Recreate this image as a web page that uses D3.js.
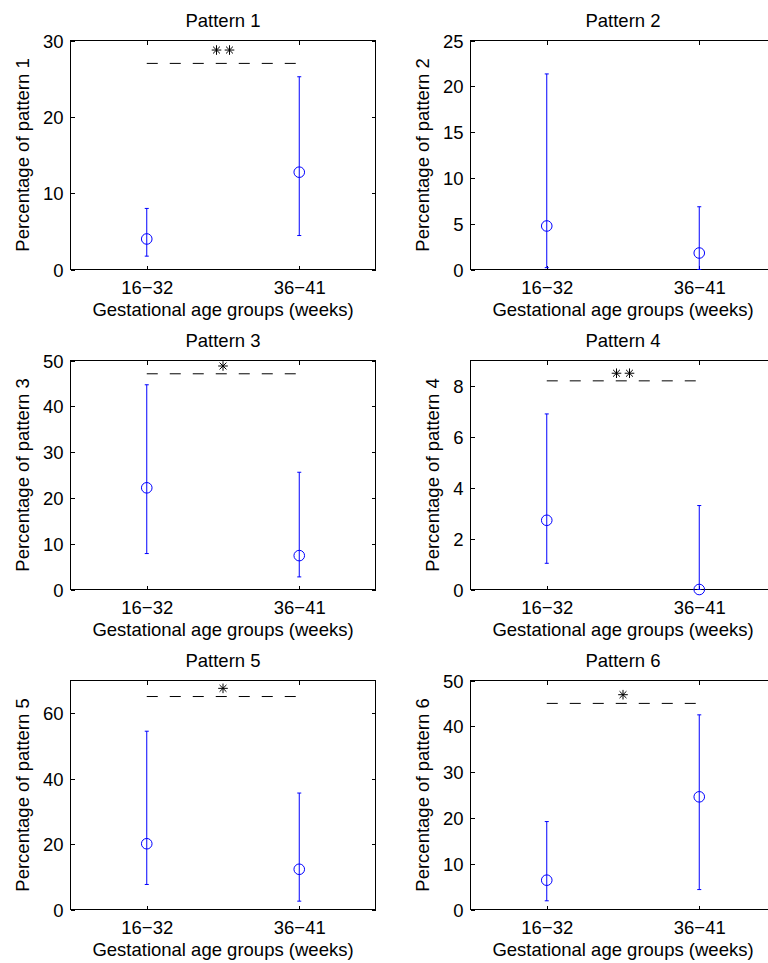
<!DOCTYPE html>
<html>
<head>
<meta charset="utf-8">
<script src="https://cdn.jsdelivr.net/npm/d3@7"></script>
<style>
  html, body { margin: 0; padding: 0; background: #fff; }
  svg { display: block; }
  text { font-family: "Liberation Sans", Arial, Helvetica, sans-serif; fill: #000; }
</style>
</head>
<body>
<svg id="chart" width="768" height="963"></svg>
<script>
// Age groups on the x axis
const groups = ["16\u221232", "36\u221241"];
// Panel titles and y-axis labels
const titles = ["Pattern 1", "Pattern 2", "Pattern 3", "Pattern 4", "Pattern 5", "Pattern 6"];
const yLabels = titles.map((t, i) => "Percentage of pattern " + (i + 1));
const xLabel = "Gestational age groups (weeks)";

// Median (circle) and error-bar limits per pattern, one value per age group
const centre = [[4.0, 12.75], [4.75, 1.8], [22.2, 7.4], [2.72, 0], [20.1, 12.3], [6.4, 24.6]];
const lower  = [[1.75, 4.45], [0.2, 0], [7.85, 2.75], [1.03, 0], [7.65, 2.55], [1.9, 4.35]];
const upper  = [[8.0, 25.25], [21.35, 6.85], [44.7, 25.6], [6.9, 3.3], [54.5, 35.6], [19.2, 42.5]];

// Y-axis upper limits and tick values per pattern
const yMax = [30, 25, 50, 9, 70, 50];
const yTicks = [
  [0, 10, 20, 30],
  [0, 5, 10, 15, 20, 25],
  [0, 10, 20, 30, 40, 50],
  [0, 2, 4, 6, 8],
  [0, 20, 40, 60],
  [0, 10, 20, 30, 40, 50]
];

// Significance brackets: dashed line level, star marks and their height
const sigLine = [27.0, null, 47.1, 8.2, 65.1, 45.0];
const sigStars = [2, 0, 1, 2, 1, 1];
const sigStarY = [28.75, null, 48.8, 8.5, 67.6, 46.9];

const svg = d3.select("#chart");
const FONT = 18.5;
const axW = 305, axH = 229;
const colX = [70.5, 470.5];
const rowY = [40.5, 360.5, 680.5];
const blue = "#0000ff";

function star(g, cx, cy) {
  const r = 4.8, d = r * 0.72;
  const p = d3.path();
  p.moveTo(cx, cy - r); p.lineTo(cx, cy + r);
  p.moveTo(cx - r, cy); p.lineTo(cx + r, cy);
  p.moveTo(cx - d, cy - d); p.lineTo(cx + d, cy + d);
  p.moveTo(cx - d, cy + d); p.lineTo(cx + d, cy - d);
  g.append("path").attr("d", p.toString()).attr("stroke", "#000").attr("stroke-width", 1).attr("fill", "none");
}

titles.forEach((title, i) => {
  const x0 = colX[i % 2], y0 = rowY[Math.floor(i / 2)];
  const g = svg.append("g").attr("transform", `translate(${x0},${y0})`);

  const x = d3.scaleLinear().domain([0.5, 2.5]).range([0, axW]);
  const y = d3.scaleLinear().domain([0, yMax[i]]).range([axH, 0]);

  // box
  g.append("rect").attr("x", 0).attr("y", 0).attr("width", axW).attr("height", axH)
    .attr("fill", "none").attr("stroke", "#000").attr("stroke-width", 1)
    .attr("shape-rendering", "crispEdges");

  // axes with inward ticks on all four sides
  const styleAxis = sel => {
    sel.select(".domain").remove();
    sel.selectAll(".tick line").attr("stroke", "#000").attr("shape-rendering", "crispEdges");
    sel.selectAll("text").attr("font-size", FONT).attr("font-family", null).attr("fill", "#000");
  };
  const yAxis = g.append("g")
    .call(d3.axisLeft(y).tickValues(yTicks[i]).tickFormat(d3.format("d")).tickSizeInner(-4).tickSizeOuter(0).tickPadding(7))
    .call(styleAxis);
  yAxis.selectAll("text").attr("dy", "0.36em");
  g.append("g").attr("transform", `translate(${axW},0)`)
    .call(d3.axisRight(y).tickValues(yTicks[i]).tickSizeInner(-4).tickSizeOuter(0).tickFormat(""))
    .call(styleAxis);
  const xAxis = g.append("g").attr("transform", `translate(0,${axH})`)
    .call(d3.axisBottom(x).tickValues([1, 2]).tickFormat((d, k) => groups[k]).tickSizeInner(-4).tickSizeOuter(0).tickPadding(10))
    .call(styleAxis);
  xAxis.selectAll("text").attr("dy", null).attr("y", 24);
  g.append("g")
    .call(d3.axisTop(x).tickValues([1, 2]).tickSizeInner(-4).tickSizeOuter(0).tickFormat(""))
    .call(styleAxis);

  // title and x label
  g.append("text").attr("x", axW / 2).attr("y", -14).attr("text-anchor", "middle")
    .attr("font-size", FONT).text(title);
  g.append("text").attr("x", axW / 2).attr("y", axH + 46).attr("text-anchor", "middle")
    .attr("font-size", FONT).text(xLabel);

  // y label placed left of the widest tick label
  let maxW = 0;
  yAxis.selectAll("text").each(function () { maxW = Math.max(maxW, this.getComputedTextLength()); });
  const lx = -7 - maxW - 14;
  g.append("text").attr("transform", `translate(${lx},${axH / 2}) rotate(-90)`)
    .attr("text-anchor", "middle").attr("font-size", FONT).text(yLabels[i]);

  // significance bracket
  if (sigLine[i] !== null) {
    g.append("line").attr("x1", x(1)).attr("x2", x(2))
      .attr("y1", y(sigLine[i])).attr("y2", y(sigLine[i]))
      .attr("stroke", "#000").attr("stroke-width", 1).attr("stroke-dasharray", "11 12");
    const n = sigStars[i];
    for (let k = 0; k < n; k++) {
      const off = (k - (n - 1) / 2) * 13;
      star(g, x(1.5) + off, y(sigStarY[i]));
    }
  }

  // error bars with caps and circle markers
  groups.forEach((grp, k) => {
    const cx = x(k + 1);
    g.append("line").attr("x1", cx).attr("x2", cx)
      .attr("y1", y(lower[i][k])).attr("y2", y(upper[i][k]))
      .attr("stroke", blue).attr("stroke-width", 1);
    [lower[i][k], upper[i][k]].forEach(v => {
      g.append("line").attr("x1", cx - 2).attr("x2", cx + 2)
        .attr("y1", y(v)).attr("y2", y(v))
        .attr("stroke", blue).attr("stroke-width", 1);
    });
    g.append("circle").attr("cx", cx).attr("cy", y(centre[i][k])).attr("r", 5.3)
      .attr("fill", "none").attr("stroke", blue).attr("stroke-width", 1);
  });
});
</script>
</body>
</html>
